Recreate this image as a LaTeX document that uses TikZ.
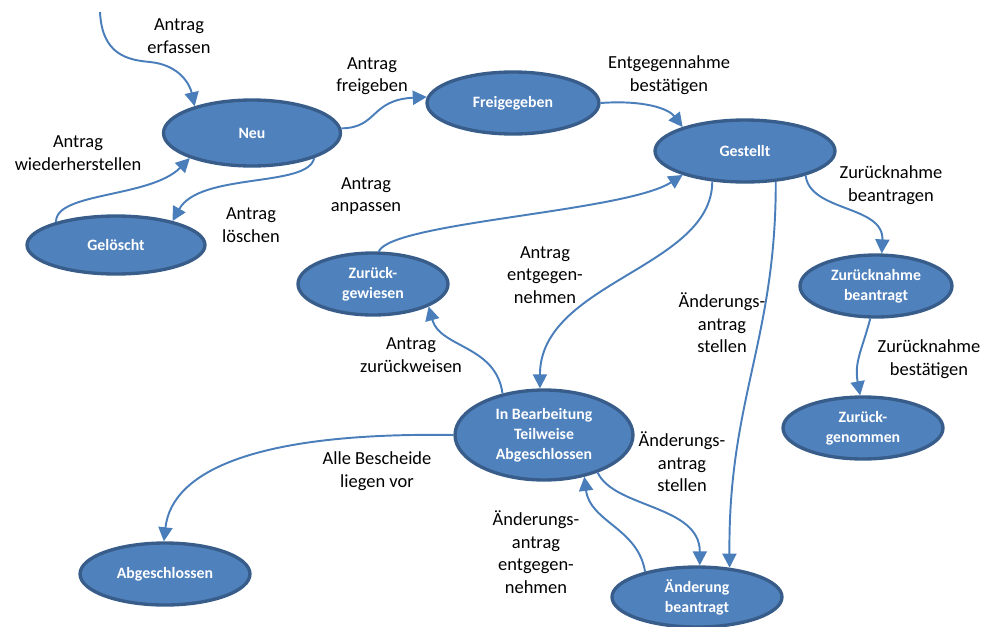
\documentclass[tikz,border=0pt]{standalone}
\usepackage{fontspec}
\setmainfont{Carlito}
\usetikzlibrary{positioning, arrows.meta, shapes.geometric}

\definecolor{zustandblau}{HTML}{4F81BD}
\definecolor{randblau}{HTML}{385D8A}
\definecolor{pfeilblau}{HTML}{4A7EBB}

\begin{document}
\begin{tikzpicture}[x=0.02cm, y=-0.02cm]
    \tikzset{
        >={Triangle[length=8pt, width=8pt]}, % gefuellte Pfeilspitze
        pfeil/.style={->, draw=pfeilblau, line width=1.1pt}, % Uebergang
        zustand/.style={ellipse, draw=randblau, fill=zustandblau, line width=1.9pt,
            text=white, align=center, inner sep=0pt,
            font=\bfseries\fontsize{9}{11.3}\selectfont,
            minimum width=3.4cm, minimum height=1.24cm}, % jeder Zustand
        beschriftung/.style={align=center, font=\fontsize{10.5}{12.8}\selectfont}, % Text am Uebergang
    }
    \useasboundingbox (0,0) rectangle (1001,626);

    % Zustaende
    \node[zustand, minimum width=3.54cm, minimum height=1.32cm] (neu) at (252,133) {Neu};
    \node[zustand, minimum width=3.44cm] (frei) at (513,103) {Freigegeben};
    \node[zustand, minimum width=3.6cm] (gest) at (745,151) {Gestellt};
    \node[zustand, minimum width=3.56cm, minimum height=1.16cm] (gel) at (116,245) {Gelöscht};
    \node[zustand, minimum width=3.0cm] (zgew) at (373,284) {Zurück-\\gewiesen};
    \node[zustand, minimum width=3.04cm] (znb) at (876,286) {Zurücknahme\\beantragt};
    \node[zustand, minimum width=3.2cm] (zgen) at (863,428) {Zurück-\\genommen};
    \node[zustand, minimum width=3.56cm, minimum height=1.8cm] (inb) at (544,435) {In Bearbeitung\\Teilweise\\Abgeschlossen};
    \node[zustand] (abg) at (165,574) {Abgeschlossen};
    \node[zustand, minimum height=1.2cm] (aend) at (697,597) {Änderung\\beantragt};

    \coordinate (start) at (100,12);

    % Uebergaenge
    \draw[pfeil] (start) .. controls (102,55) and (128,60) .. (150,62)
        .. controls (180,65) and (190,85) .. (neu.155);
    \draw[pfeil] (neu.3) .. controls (378,128) and (370,100) .. (frei.176);
    \draw[pfeil] (frei.east) .. controls (642,100) and (668,108) .. (gest.159);
    \draw[pfeil] (neu.-22) .. controls (308,188) and (200,172) .. (gel.23);
    \draw[pfeil] (gel.159) .. controls (55,192) and (150,198) .. (neu.202);
    \draw[pfeil] (zgew.80) .. controls (392,222) and (625,212) .. (gest.201);
    \draw[pfeil] (gest.223) .. controls (712,268) and (540,282) .. (inb.95);
    \draw[pfeil] (gest.-45) .. controls (776,340) and (728,400) .. (aend.42);
    \draw[pfeil] (gest.-22) .. controls (810,212) and (884,205) .. (znb.80);
    \draw[pfeil] (znb.260) .. controls (862,350) and (854,362) .. (zgen.95);
    \draw[pfeil] (inb.135) .. controls (496,345) and (440,348) .. (zgew.-22);
    \draw[pfeil] (inb.west) .. controls (258,432) and (172,470) .. (abg.92);
    \draw[pfeil] (inb.-35) .. controls (614,508) and (700,505) .. (aend.85);
    \draw[pfeil] (aend.154) .. controls (638,528) and (590,522) .. (inb.-46);

    % Beschriftungen
    \node[beschriftung] (l-erf) at (179,36) {Antrag\\erfassen};
    \node[beschriftung] (l-frei) at (372,76) {Antrag\\freigeben};
    \node[beschriftung] (l-entg) at (669,75) {Entgegennahme\\bestätigen};
    \node[beschriftung] (l-wied) at (78,153) {Antrag\\wiederherstellen};
    \node[beschriftung] (l-loe) at (251,225) {Antrag\\löschen};
    \node[beschriftung] (l-anp) at (366,196) {Antrag\\anpassen};
    \node[beschriftung] (l-znb) at (891,185) {Zurücknahme\\beantragen};
    \node[beschriftung] (l-ent) at (545,275) {Antrag\\entgegen-\\nehmen};
    \node[beschriftung] (l-aend1) at (722,323) {Änderungs-\\antrag\\stellen};
    \node[beschriftung] (l-zbest) at (929,359) {Zurücknahme\\bestätigen};
    \node[beschriftung] (l-zweis) at (411,355) {Antrag\\zurückweisen};
    \node[beschriftung] (l-alle) at (377,471) {Alle Bescheide\\liegen vor};
    \node[beschriftung] (l-aend2) at (682,462) {Änderungs-\\antrag\\stellen};
    \node[beschriftung] (l-aend3) at (536,552) {Änderungs-\\antrag\\entgegen-\\nehmen};
\end{tikzpicture}
\end{document}
